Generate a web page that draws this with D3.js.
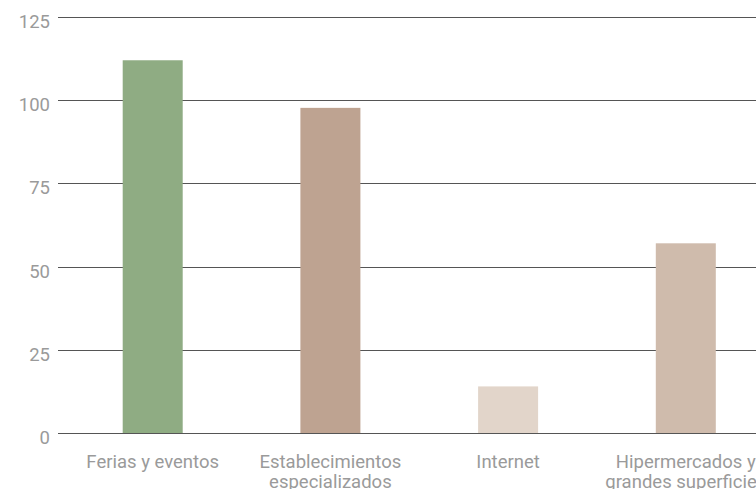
<!DOCTYPE html>
<html>
<head>
<meta charset="utf-8">
<script src="https://cdn.jsdelivr.net/npm/d3@7"></script>
<style>
	body { margin: 0; background: #fff; }
	svg { display: block; font-family: Roboto, sans-serif; }
</style>
</head>
<body>
<svg id="chart" width="756" height="489"></svg>
<script>
// chart values
const categories = ["Ferias y eventos", "Establecimientos\nespecializados", "Internet", "Hipermercados y\ngrandes superficies"];
const values = [112, 97.7, 14, 57];
const colors = ["#8fac83", "#bea391", "#e2d5ca", "#cfbbac"];
const yTicks = [0, 25, 50, 75, 100, 125];

const width = 756, height = 489;
const barWidth = 60;

const svg = d3.select("#chart");

const x = d3.scalePoint()
	.domain(categories)
	.range([152.7, 685.8]);

const y = d3.scaleLinear()
	.domain([0, 125])
	.range([433, 17]);

// grid lines + tick labels
const gridG = svg.append("g");
gridG.selectAll(".grid")
	.data(yTicks)
	.enter()
	.append("line")
	.attr("class", "grid")
	.attr("x1", 58)
	.attr("x2", width)
	.attr("y1", d => Math.round(y(d)) + 0.5)
	.attr("y2", d => Math.round(y(d)) + 0.5)
	.attr("stroke", "#555")
	.attr("stroke-width", 1);

gridG.selectAll(".tickLabel")
	.data(yTicks)
	.enter()
	.append("text")
	.attr("class", "tickLabel")
	.attr("x", 50)
	.attr("y", d => y(d) + 11)
	.attr("text-anchor", "end")
	.attr("font-size", 18.5)
	.attr("fill", "#9a9a9a")
	.text(d => d);

// bars
svg.append("g")
	.selectAll(".bar")
	.data(categories)
	.enter()
	.append("rect")
	.attr("class", "bar")
	.attr("x", d => x(d) - barWidth / 2)
	.attr("width", barWidth)
	.attr("y", (d, i) => y(values[i]))
	.attr("height", (d, i) => y(0) - y(values[i]))
	.attr("fill", (d, i) => colors[i]);

// category labels
svg.append("g")
	.selectAll(".catLabel")
	.data(categories)
	.enter()
	.append("text")
	.attr("class", "catLabel")
	.attr("text-anchor", "middle")
	.attr("font-size", 18.5)
	.attr("fill", "#9a9a9a")
	.each(function(d) {
		const t = d3.select(this);
		d.split("\n").forEach((line, j) => {
			t.append("tspan")
				.attr("x", x(d))
				.attr("y", 468 + j * 20)
				.text(line);
		});
	});
</script>
</body>
</html>
